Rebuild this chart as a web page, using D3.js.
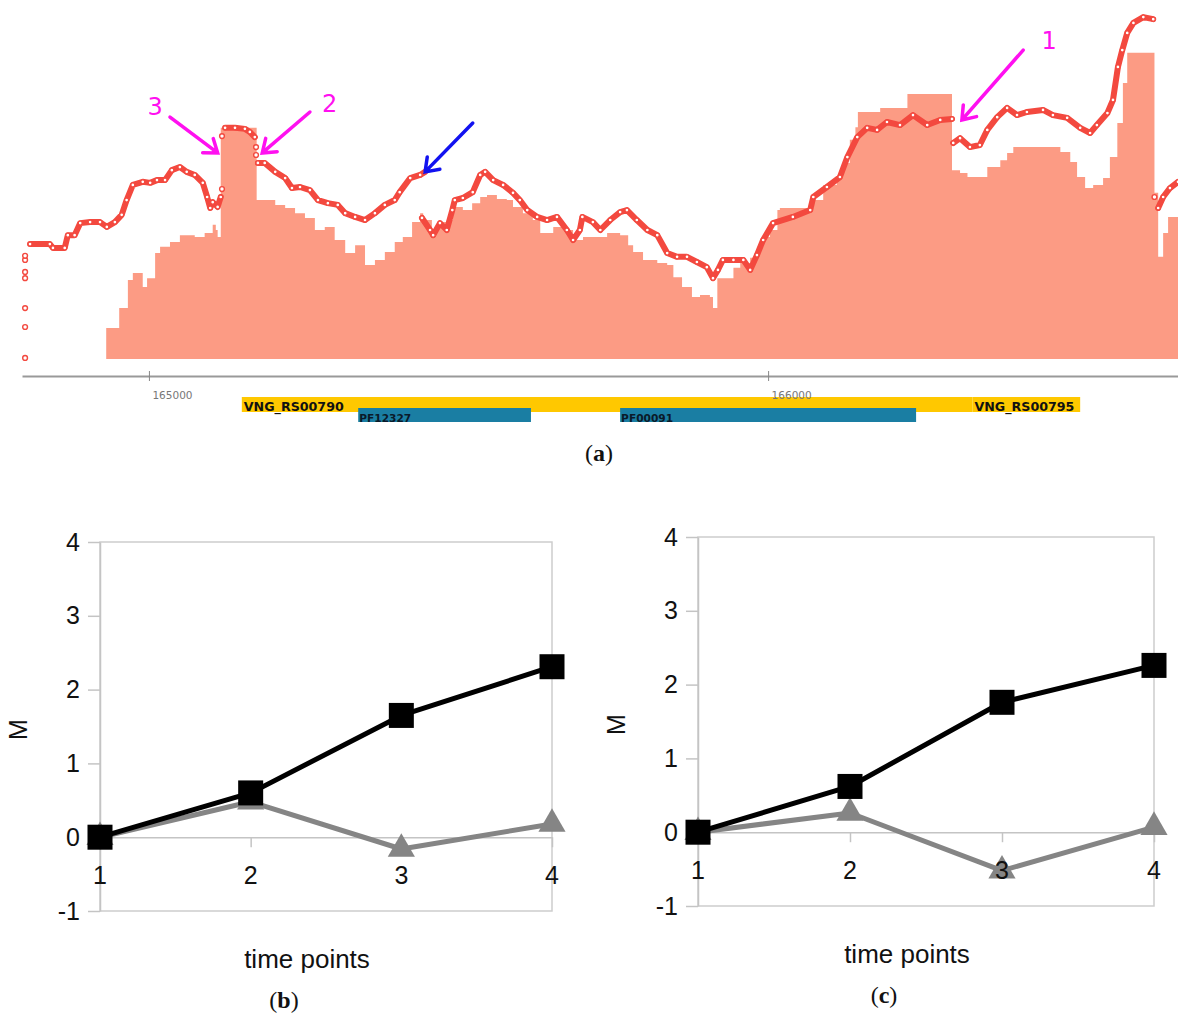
<!DOCTYPE html>
<meta charset="utf-8" />
<script src="https://d3js.org/d3.v7.min.js"></script>
<style>
  body { margin: 0; background: #fff; }
  svg { display: block; }
</style>
<div id="figure"></div>
<script>
  // ---------- panel (a): coverage track around the two genes ----------
  // coverage steps (genome position, coverage)
  const coveragePos = [
    164931, 164952, 164966, 164974, 164990, 164997, 165010, 165018, 165034, 165050,
    165074, 165090, 165103, 165108, 165111, 165116, 165174, 165204, 165220, 165236,
    165252, 165268, 165284, 165300, 165317, 165333, 165349, 165365, 165381, 165397,
    165410, 165425, 165438, 165443, 165457, 165467, 165481, 165491, 165507, 165522,
    165535, 165546, 165562, 165578, 165588, 165604, 165620, 165632, 165653, 165669,
    165685, 165701, 165740, 165761, 165774, 165782, 165798, 165821, 165837, 165847,
    165861, 165877, 165890, 165906, 165911, 165918, 165944, 165955, 165971, 165982,
    165992, 166003, 166015, 166019, 166073, 166089, 166111, 166121, 166132, 166141,
    166145, 166181, 166225, 166297, 166310, 166322, 166354, 166375, 166386, 166396,
    166460, 166472, 166488, 166499, 166512, 166525, 166541, 166552, 166564, 166573,
    166580, 166624, 166630, 166638, 166646, 166662
  ];
  const coverageVal = [
    9.0, 14.8, 23.0, 25.0, 20.9, 23.5, 30.8, 32.6, 34.0, 36.0,
    35.5, 36.6, 39.0, 37.5, 35.5, 67.2, 46.2, 44.8, 43.9, 42.4,
    41.0, 37.5, 38.4, 34.6, 30.8, 33.1, 27.3, 28.8, 31.1, 34.0,
    35.5, 39.8, 42.4, 40.4, 36.9, 39.8, 40.4, 44.2, 43.3, 45.3,
    47.1, 47.7, 46.5, 46.2, 44.2, 42.4, 40.4, 36.6, 38.4, 37.5,
    34.6, 35.5, 36.6, 36.0, 33.1, 31.1, 28.8, 27.9, 27.3, 23.8,
    20.9, 18.0, 18.6, 18.0, 14.8, 23.5, 26.5, 27.9, 29.4, 32.6,
    35.5, 37.5, 43.3, 43.9, 46.2, 50.6, 52.9, 57.0, 63.7, 67.4,
    71.8, 73.0, 77.0, 54.9, 54.1, 52.9, 55.8, 57.8, 59.9, 61.6,
    61.6, 60.2, 57.3, 52.9, 49.7, 50.6, 52.6, 58.7, 68.6, 80.2,
    89.0, 48.3, 29.7, 36.6, 41.3, 41.3
  ];

  // smoothed signal (null = break in the trace)
  const signalPos = [
    164808, 164840, 164845, 164864, 164869, 164880, 164889, 164905, 164921, 164932,
    164945, 164956, 164964, 164974, 164990, 165002, 165013, 165026, 165037, 165050,
    165061, 165074, 165087, 165094, 165099, 165103, 165111, 165116, null,
    165123, 165139, 165155, 165163, 165171, null,
    165176, 165187, 165204, 165220, 165231, 165244, 165260, 165273, 165289, 165305,
    165317, 165333, 165349, 165365, 165381, 165397, 165405, 165422, 165438, 165446, null,
    165441, 165454, 165459, 165470, 165481, 165490, 165494, 165507, 165523, 165535,
    165543, 165556, 165572, 165588, 165599, 165611, 165627, 165643, 165659, 165675,
    165685, 165696, 165700, 165717, 165729, 165745, 165761, 165772, 165788, 165805,
    165821, 165837, 165853, 165869, 165885, 165901, 165911, 165919, 165927, 165944,
    165960, 165971, 165982, 165992, 166008, 166040, 166068, 166073, 166095, 166116,
    166128, 166144, 166160, 166176, 166192, 166213, 166234, 166257, 166278, 166297, null,
    166299, 166310, 166326, 166342, 166354, 166370, 166386, 166402, 166418, 166444,
    166460, 166483, 166504, 166520, 166531, 166548, 166557, 166565, 166572, 166580,
    166590, 166606, 166622, null,
    166630, 166638, 166649, 166662
  ];
  const signalVal = [
    33.4, 33.4, 32.3, 32.3, 36.0, 36.0, 39.5, 39.8, 39.8, 38.4,
    39.8, 41.9, 46.2, 50.6, 51.5, 51.2, 52.0, 52.0, 54.9, 55.8,
    54.4, 53.5, 51.2, 47.1, 43.9, 45.6, 44.2, 47.1, null,
    67.2, 67.2, 66.9, 66.0, 64.5, null,
    57.0, 57.0, 54.4, 52.6, 49.7, 50.0, 49.1, 46.2, 45.3, 44.8,
    42.4, 41.3, 40.4, 42.4, 44.8, 46.2, 48.5, 52.6, 53.5, 54.4, null,
    41.0, 37.5, 36.0, 39.5, 37.5, 43.3, 46.2, 46.8, 48.5, 53.5,
    54.4, 52.0, 50.6, 48.3, 46.2, 43.3, 41.3, 40.4, 41.3, 37.5,
    34.6, 37.5, 41.3, 39.8, 37.5, 40.4, 42.7, 43.3, 40.4, 37.5,
    36.0, 30.8, 29.7, 29.7, 28.2, 26.7, 23.5, 25.9, 28.8, 28.8,
    28.8, 25.9, 30.2, 34.6, 39.5, 41.3, 43.3, 47.1, 50.0, 52.9,
    58.7, 64.5, 67.2, 66.6, 68.9, 68.0, 70.9, 68.0, 69.5, 69.8, null,
    62.8, 64.2, 61.6, 62.2, 66.6, 70.3, 73.0, 70.9, 71.8, 72.4,
    70.9, 70.1, 67.2, 65.7, 68.0, 71.5, 75.3, 84.9, 89.8, 94.8,
    97.7, 99.4, 98.8, null,
    43.9, 47.1, 49.7, 51.5
  ];

  // isolated signal points at the jumps
  const looseDotPos = [164800, 164800, 164800, 164800, 164800, 164800, 164800,
    165118, 165118, 165173, 165173, 166624];
  const looseDotVal = [0.3, 9.3, 14.8, 23.5, 25.3, 28.8, 30.0,
    49.4, 64.8, 61.6, 59.3, 47.1];

  const axisTicks = [165000, 166000];
  const geneNames = ["VNG_RS00790", "VNG_RS00795"];
  const geneStart = [165150, 166330];
  const geneEnd = [166330, 166504];
  const domainNames = ["PF12327", "PF00091"];
  const domainStart = [165338, 165761];
  const domainEnd = [165617, 166239];

  // ---------- panels (b) and (c): M over time ----------
  const timePoints = [1, 2, 3, 4];
  const mTicks = [-1, 0, 1, 2, 3, 4];
  const panelBBlack = [0, 0.6, 1.65, 2.31];
  const panelBGray = [0, 0.48, -0.16, 0.18];
  const panelCBlack = [0, 0.62, 1.76, 2.26];
  const panelCGray = [0, 0.26, -0.52, 0.07];

  const W = 1178, H = 1013;
  const red = "#f3493f";
  const svg = d3.select("#figure").append("svg").attr("width", W).attr("height", H);

  const x = d3.scaleLinear().domain([164795, 166662]).range([22, 1178]);
  const y = d3.scaleLinear().domain([0, 100]).range([359, 15]);

  // coverage area
  const coverage = coveragePos.map((p, i) => ({ pos: p, val: coverageVal[i] }));
  const area = d3.area()
    .curve(d3.curveStepAfter)
    .x((d) => x(d.pos))
    .y0(y(0))
    .y1((d) => y(d.val));
  svg.append("path").datum(coverage).attr("d", area).attr("fill", "#fc9b84");

  // signal trace
  const signal = signalPos.map((p, i) => ({ pos: p, val: signalVal[i] }));
  const line = d3.line()
    .defined((d) => d.val !== null)
    .x((d) => x(d.pos))
    .y((d) => y(d.val));
  svg.append("path")
    .datum(signal)
    .attr("d", line)
    .attr("fill", "none")
    .attr("stroke", red)
    .attr("stroke-width", 6)
    .attr("stroke-linejoin", "round")
    .attr("stroke-linecap", "round");
  svg.append("g")
    .selectAll("circle")
    .data(signal.filter((d) => d.val !== null))
    .join("circle")
    .attr("cx", (d) => x(d.pos))
    .attr("cy", (d) => y(d.val))
    .attr("r", 2)
    .attr("fill", "#fff")
    .attr("stroke", red)
    .attr("stroke-width", 1.3);

  const loose = looseDotPos.map((p, i) => ({ pos: p, val: looseDotVal[i] }));
  svg.append("g")
    .selectAll("circle")
    .data(loose)
    .join("circle")
    .attr("cx", (d) => x(d.pos))
    .attr("cy", (d) => y(d.val))
    .attr("r", 2.4)
    .attr("fill", "#fff")
    .attr("stroke", red)
    .attr("stroke-width", 1.4);

  // genes and domains
  const genes = geneNames.map((n, i) => ({ name: n, start: geneStart[i], end: geneEnd[i] }));
  const domains = domainNames.map((n, i) => ({ name: n, start: domainStart[i], end: domainEnd[i] }));

  svg.append("g")
    .selectAll("rect")
    .data(genes)
    .join("rect")
    .attr("x", (d) => x(d.start))
    .attr("y", 397)
    .attr("width", (d) => x(d.end) - x(d.start))
    .attr("height", 15)
    .attr("fill", "#ffc800");
  svg.append("g")
    .selectAll("text")
    .data(genes)
    .join("text")
    .attr("x", (d) => x(d.start) + 2)
    .attr("y", 411)
    .attr("textLength", 100)
    .attr("lengthAdjust", "spacingAndGlyphs")
    .style("font-family", "DejaVu Sans, sans-serif")
    .style("font-size", "12px")
    .style("font-weight", "bold")
    .attr("fill", "#111")
    .text((d) => d.name);

  svg.append("g")
    .selectAll("rect")
    .data(domains)
    .join("rect")
    .attr("x", (d) => x(d.start))
    .attr("y", 408)
    .attr("width", (d) => x(d.end) - x(d.start))
    .attr("height", 14)
    .attr("fill", "#1a7ea3");
  svg.append("g")
    .selectAll("text")
    .data(domains)
    .join("text")
    .attr("x", (d) => x(d.start) + 1)
    .attr("y", 422)
    .attr("textLength", 52)
    .attr("lengthAdjust", "spacingAndGlyphs")
    .style("font-family", "DejaVu Sans, sans-serif")
    .style("font-size", "11px")
    .style("font-weight", "bold")
    .attr("fill", "#0a1a2a")
    .text((d) => d.name);

  // genome axis (drawn after the genes: the labels sit over the bar)
  const axisY = 376;
  const gAxis = svg.append("g")
    .attr("transform", `translate(0,${axisY})`)
    .call(d3.axisBottom(x).tickValues(axisTicks).tickSizeOuter(0).tickFormat(d3.format("d")));
  gAxis.select(".domain").attr("stroke", "#999").attr("stroke-width", 2);
  gAxis.selectAll(".tick line").attr("y1", -5).attr("y2", 5).attr("stroke", "#888");
  gAxis.selectAll(".tick text")
    .attr("text-anchor", "start")
    .attr("x", 3)
    .attr("y", 23)
    .attr("dy", 0)
    .style("font-family", "DejaVu Sans, sans-serif")
    .style("font-size", "10.5px")
    .attr("fill", "#777");

  // annotation arrows (tail -> tip, in track coordinates)
  const arrows = [
    { tail: [165034, 70.3], tip: [165111, 59.9], color: "#ff10f0", label: "3", at: [165010, 73.3] },
    { tail: [165260, 71.8], tip: [165183, 59.9], color: "#ff10f0", label: "2", at: [165292, 74.1] },
    { tail: [166412, 89.8], tip: [166313, 69.5], color: "#ff10f0", label: "1", at: [166454, 92.4] },
    { tail: [165523, 68.6], tip: [165446, 54.4], color: "#1212f0", label: "", at: null }
  ];
  arrows.forEach(function (a) {
    const sx = x(a.tail[0]), sy = y(a.tail[1]);
    const tx = x(a.tip[0]), ty = y(a.tip[1]);
    const ang = Math.atan2(ty - sy, tx - sx);
    const L = 15, th = Math.PI / 5;
    const p1 = [tx - L * Math.cos(ang - th), ty - L * Math.sin(ang - th)];
    const p2 = [tx - L * Math.cos(ang + th), ty - L * Math.sin(ang + th)];
    svg.append("path")
      .attr("d", `M${sx},${sy}L${tx},${ty}M${p1[0]},${p1[1]}L${tx},${ty}L${p2[0]},${p2[1]}`)
      .attr("fill", "none")
      .attr("stroke", a.color)
      .attr("stroke-width", 3.5)
      .attr("stroke-linecap", "round");
    if (a.label) {
      svg.append("text")
        .attr("x", x(a.at[0]))
        .attr("y", y(a.at[1]))
        .attr("text-anchor", "middle")
        .attr("dominant-baseline", "central")
        .style("font-family", "DejaVu Sans, sans-serif")
        .style("font-size", "24px")
        .attr("fill", a.color)
        .text(a.label);
    }
  });

  function panelLabel(cx, baseline, letter) {
    const t = svg.append("text")
      .attr("x", cx)
      .attr("y", baseline)
      .attr("text-anchor", "middle")
      .style("font-family", "Liberation Serif, serif")
      .style("font-size", "24px")
      .attr("fill", "#111");
    t.append("tspan").text("(");
    t.append("tspan").style("font-weight", "bold").text(letter);
    t.append("tspan").text(")");
  }
  panelLabel(599, 461, "a");

  // ---------- line panels ----------
  function drawPanel(left, top, right, bottom, blackVals, grayVals, letter) {
    const px = d3.scalePoint().domain(timePoints).range([left, right]);
    const py = d3.scaleLinear().domain([-1, 4]).range([bottom, top]);
    const g = svg.append("g");
    const font = "Liberation Sans, Arial, sans-serif";

    g.append("rect")
      .attr("x", left)
      .attr("y", top)
      .attr("width", right - left)
      .attr("height", bottom - top)
      .attr("fill", "none")
      .attr("stroke", "#cdcdcd")
      .attr("stroke-width", 1.5);

    const yAxis = g.append("g")
      .attr("transform", `translate(${left},0)`)
      .call(d3.axisLeft(py).tickValues(mTicks).tickSize(12).tickSizeOuter(0).tickPadding(8)
        .tickFormat((d) => String(d)));
    yAxis.select(".domain").attr("stroke", "#c4c4c4").attr("stroke-width", 1.5);
    yAxis.selectAll(".tick line").attr("stroke", "#c4c4c4").attr("stroke-width", 1.5);
    yAxis.selectAll(".tick text")
      .style("font-family", font)
      .style("font-size", "25px")
      .attr("fill", "#111");

    const xAxis = g.append("g")
      .attr("transform", `translate(0,${py(0)})`)
      .call(d3.axisBottom(px).tickSize(10).tickSizeOuter(0).tickFormat(""));
    xAxis.select(".domain").attr("stroke", "#c4c4c4").attr("stroke-width", 1.5);
    xAxis.selectAll(".tick line").attr("stroke", "#c4c4c4").attr("stroke-width", 1.5);

    const lineGen = d3.line()
      .x((d, i) => px(timePoints[i]))
      .y((d) => py(d));

    g.append("path")
      .datum(grayVals)
      .attr("d", lineGen)
      .attr("fill", "none")
      .attr("stroke", "#858585")
      .attr("stroke-width", 5)
      .attr("stroke-linejoin", "round");
    g.append("g")
      .selectAll("path")
      .data(grayVals)
      .join("path")
      .attr("d", d3.symbol(d3.symbolTriangle, 320))
      .attr("transform", (d, i) => `translate(${px(timePoints[i])},${py(d)})`)
      .attr("fill", "#858585");

    g.append("path")
      .datum(blackVals)
      .attr("d", lineGen)
      .attr("fill", "none")
      .attr("stroke", "#000")
      .attr("stroke-width", 5)
      .attr("stroke-linejoin", "round");
    g.append("g")
      .selectAll("rect")
      .data(blackVals)
      .join("rect")
      .attr("x", (d, i) => px(timePoints[i]) - 12.5)
      .attr("y", (d) => py(d) - 12.5)
      .attr("width", 25)
      .attr("height", 25)
      .attr("fill", "#000");

    // category labels go on top of the markers
    g.append("g")
      .selectAll("text")
      .data(timePoints)
      .join("text")
      .attr("x", (d) => px(d))
      .attr("y", py(0) + 47)
      .attr("text-anchor", "middle")
      .style("font-family", font)
      .style("font-size", "25px")
      .attr("fill", "#111")
      .text((d) => d);

    const mid = (left + right) / 2;
    g.append("text")
      .attr("transform", `translate(${left - 82},${(top + bottom) / 2 + 3}) rotate(-90)`)
      .attr("text-anchor", "middle")
      .attr("dominant-baseline", "central")
      .style("font-family", font)
      .style("font-size", "25px")
      .attr("fill", "#111")
      .text("M");
    g.append("text")
      .attr("x", mid - 19)
      .attr("y", bottom + 57)
      .attr("text-anchor", "middle")
      .style("font-family", font)
      .style("font-size", "26px")
      .attr("fill", "#111")
      .text("time points");

    panelLabel(mid - 42, bottom + 97, letter);
  }

  drawPanel(100, 542, 552, 911, panelBBlack, panelBGray, "b");
  drawPanel(698, 537, 1154, 906, panelCBlack, panelCGray, "c");
</script>
